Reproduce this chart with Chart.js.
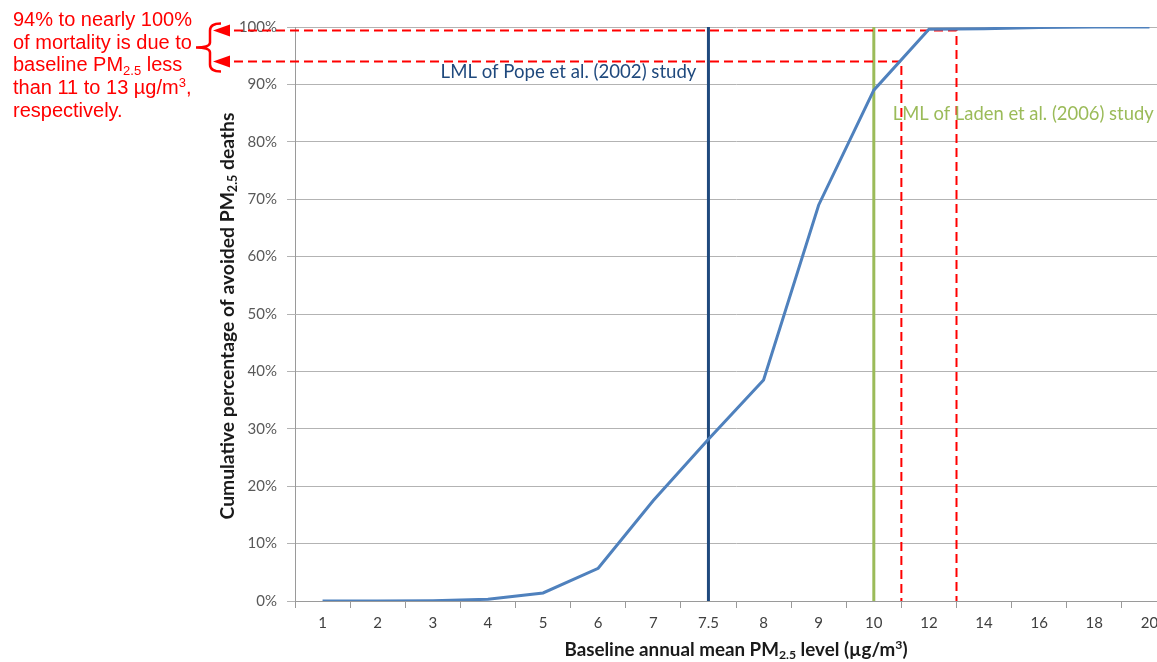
<!DOCTYPE html>
<html>
<head>
<meta charset="utf-8">
<script src="https://cdn.jsdelivr.net/npm/chart.js@4.4.1/dist/chart.umd.min.js"></script>
<style>
  html, body { margin: 0; padding: 0; background: #fff; overflow: hidden; }
  #wrap { position: relative; width: 1180px; height: 662px; }
</style>
</head>
<body>
<div id="wrap"><canvas id="cumChart"></canvas></div>
<script>
/* =========================
   DATA
========================= */
const pmLevels = ["1", "2", "3", "4", "5", "6", "7", "7.5", "8", "9", "10", "12", "14", "16", "18", "20"];
const cumPct = [0, 0, 0.05, 0.3, 1.4, 5.7, 17.5, 28.2, 38.5, 69, 89, 99.6, 99.7, 99.9, 100, 100];
const yTickValues = [0, 10, 20, 30, 40, 50, 60, 70, 80, 90, 100];

// lowest measured levels of the two cohort studies
const lmlPm = [7.5, 10];
const lmlText = ["LML of Pope et al. (2002) study", "LML of Laden et al. (2006) study"];

// share of mortality below a baseline level
const cutPm = [11, 13];
const cutPct = [94, 99.4];

const noteLines = [
  [{ t: "94% to nearly 100%" }],
  [{ t: "of mortality is due to" }],
  [{ t: "baseline PM" }, { t: "2.5", sub: true }, { t: " less" }],
  [{ t: "than 11 to 13 \u00b5g/m" }, { t: "3", sup: true }, { t: "," }],
  [{ t: "respectively." }]
];
const xTitle = [{ t: "Baseline annual mean PM" }, { t: "2.5", sub: true }, { t: " level (\u00b5g/m" }, { t: "3", sup: true }, { t: ")" }];
const yTitle = [{ t: "Cumulative percentage of avoided PM" }, { t: "2.5", sub: true }, { t: " deaths" }];

/* =========================
   HELPERS
========================= */
const pmNums = pmLevels.map(Number);

// PM value -> (fractional) category index
function pmToIndex(v) {
  for (let i = 0; i < pmNums.length - 1; i++) {
    if (v >= pmNums[i] && v <= pmNums[i + 1]) {
      return i + (v - pmNums[i]) / (pmNums[i + 1] - pmNums[i]);
    }
  }
  return pmNums.length - 1;
}

function richWidth(ctx, parts, size, family, weight) {
  let w = 0;
  parts.forEach(p => {
    const s = (p.sub || p.sup) ? size * 0.65 : size;
    ctx.font = `${weight} ${s}px ${family}`;
    w += ctx.measureText(p.t).width;
  });
  return w;
}

function drawRich(ctx, parts, x, y, size, family, weight, color, align) {
  const total = richWidth(ctx, parts, size, family, weight);
  let cx = align === "center" ? x - total / 2 : align === "right" ? x - total : x;
  ctx.fillStyle = color;
  ctx.textAlign = "left";
  ctx.textBaseline = "alphabetic";
  parts.forEach(p => {
    const s = (p.sub || p.sup) ? size * 0.65 : size;
    const dy = p.sub ? size * 0.18 : p.sup ? -size * 0.38 : 0;
    ctx.font = `${weight} ${s}px ${family}`;
    ctx.fillText(p.t, cx, y + dy);
    cx += ctx.measureText(p.t).width;
  });
}

/* =========================
   OVERLAY PLUGIN
========================= */
const overlay = {
  id: "overlay",
  beforeDatasetsDraw(chart) {
    const { ctx, chartArea, scales } = chart;
    const x = scales.x, y = scales.y;
    ctx.save();

    // LML vertical lines
    const lmlColors = ["#1f497d", "#9bbb59"];
    lmlPm.forEach((v, i) => {
      const px = x.getPixelForValue(pmToIndex(v));
      ctx.strokeStyle = lmlColors[i];
      ctx.lineWidth = 3;
      ctx.beginPath();
      ctx.moveTo(px, chartArea.top);
      ctx.lineTo(px, chartArea.bottom);
      ctx.stroke();
    });

    // red dashed threshold lines
    ctx.strokeStyle = "#ff0000";
    ctx.lineWidth = 2;
    ctx.setLineDash([9, 5]);
    cutPm.forEach((v, i) => {
      const px = x.getPixelForValue(pmToIndex(v));
      const py = y.getPixelForValue(cutPct[i]);
      ctx.beginPath();
      ctx.moveTo(234, py);
      ctx.lineTo(px, py);
      ctx.lineTo(px, chartArea.bottom);
      ctx.stroke();
    });
    ctx.restore();
  },
  afterDraw(chart) {
    const { ctx, chartArea, scales } = chart;
    const x = scales.x, y = scales.y;
    ctx.save();

    // arrows at the left end of the dashed lines
    ctx.fillStyle = "#ff0000";
    cutPct.forEach(p => {
      const py = y.getPixelForValue(p);
      ctx.beginPath();
      ctx.moveTo(213, py);
      ctx.lineTo(230, py - 6);
      ctx.lineTo(230, py + 6);
      ctx.closePath();
      ctx.fill();
    });

    // brace
    const yTop = y.getPixelForValue(cutPct[1]) - 7;
    const yBot = y.getPixelForValue(cutPct[0]) + 10;
    const yMid = (yTop + yBot) / 2;
    ctx.strokeStyle = "#ff0000";
    ctx.lineWidth = 2.5;
    ctx.beginPath();
    ctx.moveTo(221, yTop);
    ctx.quadraticCurveTo(210, yTop, 210, yTop + 7);
    ctx.lineTo(210, yMid - 5);
    ctx.quadraticCurveTo(210, yMid, 196, yMid);
    ctx.quadraticCurveTo(210, yMid, 210, yMid + 5);
    ctx.lineTo(210, yBot - 7);
    ctx.quadraticCurveTo(210, yBot, 221, yBot);
    ctx.stroke();

    // note text
    noteLines.forEach((line, i) => {
      drawRich(ctx, line, 13, 26 + i * 22.7, 20, "'Liberation Sans', Arial, sans-serif", "normal", "#ff0000", "left");
    });

    // LML labels
    const popeX = x.getPixelForValue(pmToIndex(lmlPm[0]));
    const ladenX = x.getPixelForValue(pmToIndex(lmlPm[1]));
    drawRich(ctx, [{ t: lmlText[0] }], popeX - 12, chartArea.top + 51, 18.6, "Lato, sans-serif", "normal", "#1f497d", "right");
    drawRich(ctx, [{ t: lmlText[1] }], ladenX + 19, chartArea.top + 93, 18.4, "Lato, sans-serif", "normal", "#9bbb59", "left");

    // axis titles
    drawRich(ctx, xTitle, (chartArea.left + chartArea.right) / 2, 656, 18.8, "Lato, sans-serif", "bold", "#1a1a1a", "center");
    ctx.translate(234, 316);
    ctx.rotate(-Math.PI / 2);
    drawRich(ctx, yTitle, 0, 0, 19.3, "Lato, sans-serif", "bold", "#1a1a1a", "center");
    ctx.restore();
  }
};

/* =========================
   CHART
========================= */
const ctx = document.getElementById("cumChart").getContext("2d");

new Chart(ctx, {
  type: "line",
  data: {
    labels: pmLevels,
    datasets: [{
      data: cumPct,
      borderColor: "#4f81bd",
      borderWidth: 3,
      pointRadius: 0,
      tension: 0,
      fill: false
    }]
  },
  options: {
    responsive: true,
    maintainAspectRatio: false,
    animation: false,
    layout: { padding: { top: 27, right: 3, bottom: 0, left: 0 } },
    plugins: {
      legend: { display: false },
      tooltip: { enabled: false }
    },
    scales: {
      x: {
        offset: true,
        border: { display: true, color: "#9a9a9a", width: 1 },
        grid: {
          offset: true,
          drawOnChartArea: false,
          drawTicks: true,
          tickLength: 7,
          color: "#9a9a9a"
        },
        ticks: {
          color: "#404040",
          padding: 6,
          maxRotation: 0,
          autoSkip: false,
          font: { family: "Lato, sans-serif", size: 15 }
        },
        afterFit: scale => { scale.height = 61; }
      },
      y: {
        min: 0,
        max: 100,
        afterBuildTicks: scale => {
          scale.ticks = yTickValues.map(v => ({ value: v }));
        },
        border: { display: true, color: "#9a9a9a", width: 1 },
        grid: {
          color: "#b3b3b3",
          tickLength: 8,
          drawTicks: true
        },
        ticks: {
          color: "#595959",
          padding: 10,
          font: { family: "Lato, sans-serif", size: 15 },
          callback: v => v + "%"
        },
        afterFit: scale => { scale.width = 295; }
      }
    }
  },
  plugins: [overlay]
});
</script>
</body>
</html>
